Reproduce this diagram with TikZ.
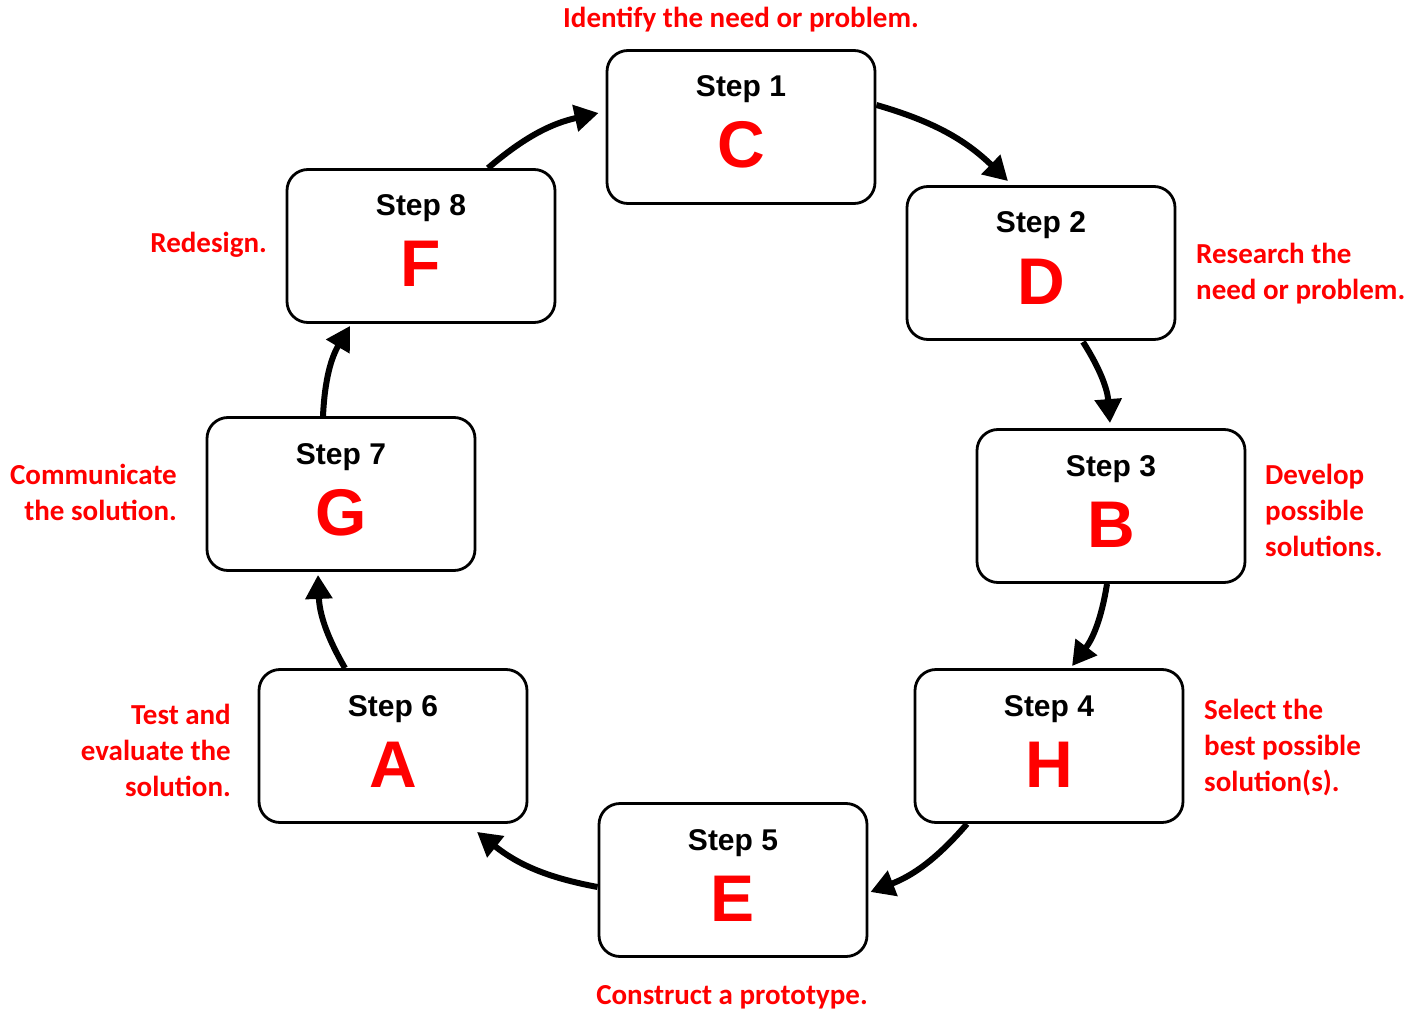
\documentclass[tikz,border=0pt]{standalone}
\usepackage{fontspec}
\setmainfont{Liberation Sans}
\newfontfamily\lblfont{Carlito}
\usetikzlibrary{arrows.meta}
\definecolor{lred}{RGB}{255,0,0}
\begin{document}
\begin{tikzpicture}[x=1pt,y=-1pt,
 box/.style={draw,line width=2.8pt,rounded corners=21pt,minimum width=268pt,minimum height=153pt,inner sep=0pt},
 steplbl/.style={anchor=base,font=\fontsize{30}{32}\selectfont\bfseries,inner sep=0pt},
 letter/.style={anchor=base,font=\fontsize{66}{70}\selectfont\bfseries,text=lred,inner sep=0pt},
 note/.style={font=\lblfont\fontsize{29}{36}\selectfont\bfseries,text=lred,inner sep=0pt},
 flow/.style={line width=6pt,-{Triangle[length=24pt,width=26pt]},bend left=14}
]
\useasboundingbox (0,0) rectangle (1419,1011);

\node[box] (b1) at (741,127) {};
\node[box] (b2) at (1041,263) {};
\node[box] (b3) at (1111,506) {};
\node[box] (b4) at (1049,746) {};
\node[box] (b5) at (733,880) {};
\node[box] (b6) at (393,746) {};
\node[box] (b7) at (341,494) {};
\node[box] (b8) at (421,246) {};

\foreach \b/\n/\l in {b1/1/C, b2/2/D, b3/3/B, b4/4/H, b5/5/E, b6/6/A, b7/7/G, b8/8/F}{
  \node[steplbl] (s\n) at ([yshift=30pt]\b.center) {Step \n};
  \node[letter] (l\n) at ([yshift=-41pt]\b.center) {\l};
}

\draw[flow] ([yshift=22pt]b1.east) to ([xshift=-33pt,yshift=4pt]b2.north);
\draw[flow] ([xshift=42pt,yshift=-1pt]b2.south) to ([xshift=-1pt,yshift=5pt]b3.north);
\draw[flow] ([xshift=-4pt]b3.south) to ([xshift=23pt,yshift=2pt]b4.north);
\draw[flow] ([xshift=-82pt]b4.south) to ([xshift=2pt,yshift=-12pt]b5.east);
\draw[flow] ([yshift=-7pt]b5.west) to ([xshift=84pt,yshift=-8pt]b6.south);
\draw[flow] ([xshift=-48pt]b6.north) to ([xshift=-23pt,yshift=-3pt]b7.south);
\draw[flow] ([xshift=-18pt]b7.north) to ([xshift=-71pt,yshift=-2pt]b8.south);
\draw[flow] ([xshift=67pt]b8.north) to ([xshift=-7pt,yshift=14pt]b1.west);

\node[note] (t1) at (741,20) {Identify the need or problem.};
\node[note,anchor=west,align=left] (t2) at (1196,274) {Research the\\need or problem.};
\node[note,anchor=west,align=left] (t3) at (1265,510) {Develop\\possible\\solutions.};
\node[note,anchor=west,align=left] (t4) at (1204,748) {Select the\\best possible\\solution(s).};
\node[note] (t5) at (732,997) {Construct a prototype.};
\node[note,anchor=east,align=right] (t6) at (231,750) {Test and\\evaluate the\\solution.};
\node[note,anchor=east,align=right] (t7) at (177,492) {Communicate\\the solution.};
\node[note,anchor=east] (t8) at (267,245) {Redesign.};
\end{tikzpicture}
\end{document}
